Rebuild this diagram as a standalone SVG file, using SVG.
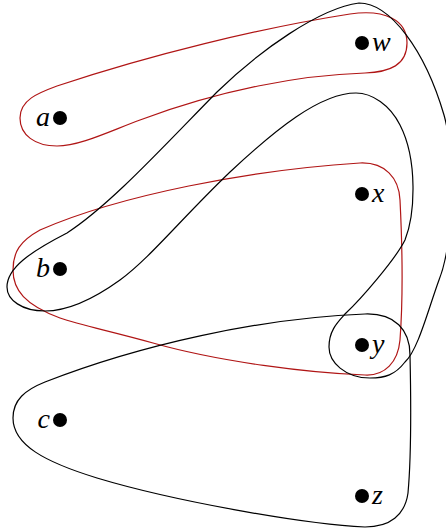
<svg xmlns="http://www.w3.org/2000/svg" width="446" height="531" viewBox="0 0 446 531">
<style>
.e{fill:none;stroke-width:1.2;stroke-linejoin:round}
.k{stroke:#000}
.r{stroke:#b01515}
.d{fill:#000}
.l{font-family:"Liberation Serif","Times New Roman",serif;font-style:italic;font-size:28px;fill:#000}
.L{text-anchor:end}
</style>
<rect width="446" height="531" fill="#fff"/>
<g id="edges">
<path id="e-aw" class="e r" d="M 20,118 C 20,100 38,93 57,86 C 150,55 260,28 350,14 C 385,9 407,20 407,43 C 407,65 390,72 365,73 C 300,75 220,90 140,120 C 110,131 80,146 57,146 C 35,146 20,135 20,118 Z"/>
<path id="e-bxy" class="e r" d="M 13,270 C 13,252 20,241 40,230 C 120,195 250,170 360,163 C 385,162 399,178 400,200 C 402,240 403,300 400,340 C 398,362 385,376 365,375 C 310,373 220,362 153,343 C 110,331 80,325 60,318 C 25,305 13,290 13,270 Z"/>
<path id="e-bwy" class="e k" d="M 359,3 C 390,3 425,50 444,115 C 454,150 455,240 439,280 C 428,310 418,350 405,362 C 395,375 385,378 370,378 C 345,378 329,362 329,347 C 329,330 338,322 346,313 C 360,300 395,260 405,240 C 415,215 418,160 400,125 C 390,105 372,93 356,93 C 320,93 275,130 230,172 C 180,220 150,258 120,280 C 95,298 70,311 45,311 C 22,311 7,300 7,287 C 7,268 30,252 67,233 C 110,205 160,150 217,92 C 260,50 320,8 359,3 Z"/>
<path id="e-cyz" class="e k" d="M 13,418 C 13,400 25,390 45,382 C 140,345 260,318 365,314 C 395,313 410,330 410,355 C 411,400 411,460 408,493 C 405,515 390,527 365,527 C 300,524 170,500 97,478 C 45,462 13,445 13,418 Z"/>
</g>
<g id="a"><circle class="d" cx="60" cy="118" r="7"/><text class="l L" x="50" y="126">a</text></g>
<g id="b"><circle class="d" cx="60" cy="269" r="7"/><text class="l L" x="50" y="277">b</text></g>
<g id="c"><circle class="d" cx="60" cy="420" r="7"/><text class="l L" x="50" y="428">c</text></g>
<g id="w"><circle class="d" cx="362" cy="43" r="7"/><text class="l" x="372" y="51">w</text></g>
<g id="x"><circle class="d" cx="362" cy="194" r="7"/><text class="l" x="372" y="202">x</text></g>
<g id="y"><circle class="d" cx="362" cy="345" r="7"/><text class="l" x="372" y="353">y</text></g>
<g id="z"><circle class="d" cx="362" cy="496" r="7"/><text class="l" x="372" y="504">z</text></g>
</svg>
